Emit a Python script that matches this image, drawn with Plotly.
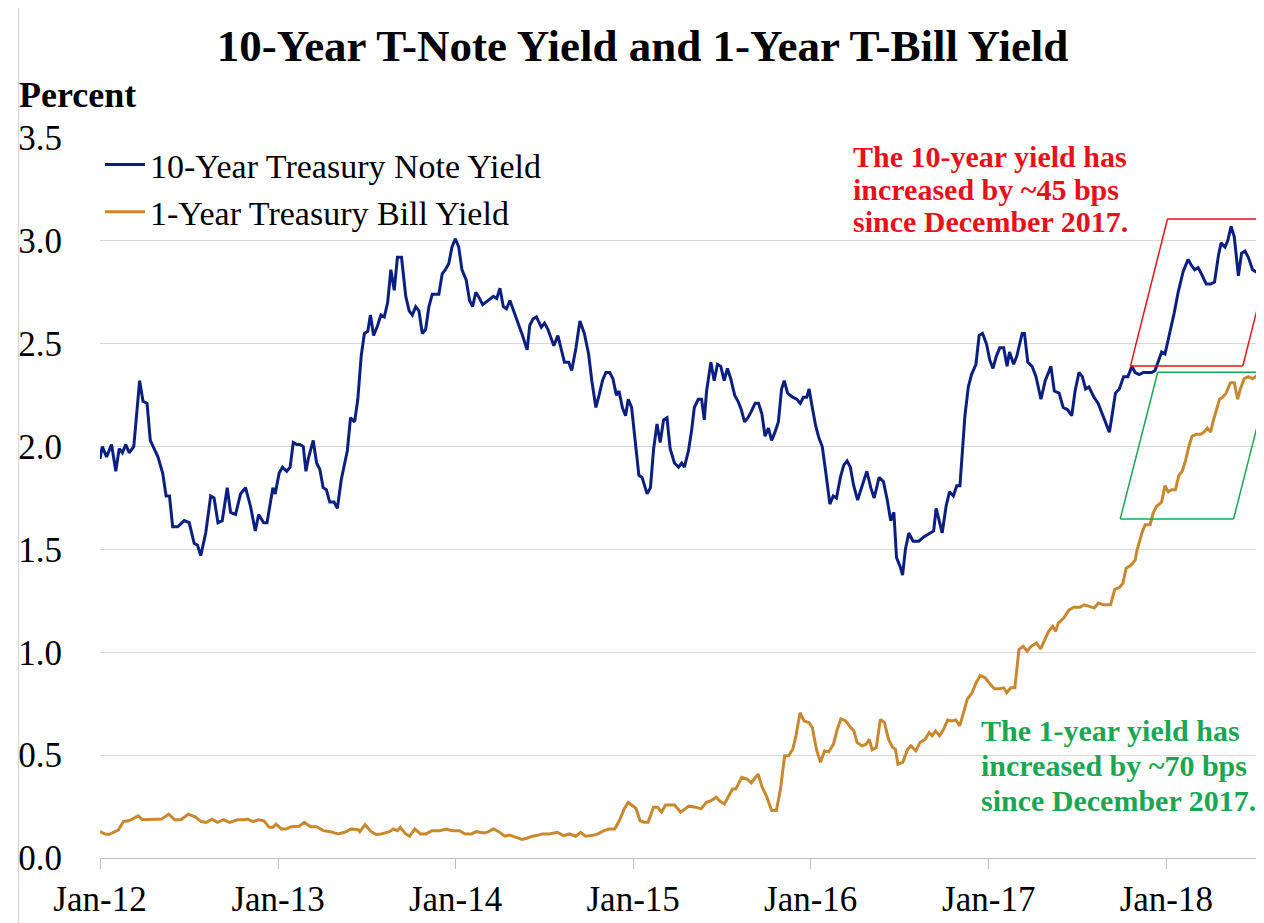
"""10-year T-note vs 1-year T-bill yield, weekly, 2012-2018."""

import pandas as pd
import plotly.graph_objects as go

# positions are years elapsed since 1 Jan 2012
note_t = [0.000, 0.013, 0.037, 0.065, 0.089, 0.108, 0.126, 0.145, 0.164, 0.190, 0.223, 0.242, 0.265, 0.283,
          0.326, 0.353, 0.372, 0.391, 0.409, 0.437, 0.474, 0.502, 0.530, 0.549, 0.567, 0.595, 0.623, 0.642,
          0.664, 0.688, 0.716, 0.735, 0.763, 0.791, 0.819, 0.847, 0.874, 0.893, 0.921, 0.940, 0.973, 0.986,
          1.008, 1.027, 1.051, 1.070, 1.088, 1.107, 1.126, 1.144, 1.159, 1.172, 1.200, 1.219, 1.237, 1.256,
          1.274, 1.293, 1.317, 1.336, 1.358, 1.377, 1.392, 1.410, 1.433, 1.451, 1.470, 1.488, 1.507, 1.522,
          1.540, 1.563, 1.581, 1.600, 1.619, 1.637, 1.656, 1.674, 1.697, 1.721, 1.740, 1.758, 1.777, 1.795,
          1.814, 1.833, 1.851, 1.870, 1.907, 1.926, 1.944, 1.963, 1.981, 2.000,
          2.019, 2.037, 2.061, 2.080, 2.097, 2.115, 2.130, 2.154, 2.186, 2.214, 2.233, 2.251, 2.270, 2.288,
          2.307, 2.329, 2.353, 2.378, 2.404, 2.419, 2.437, 2.456, 2.484, 2.502, 2.521, 2.554, 2.577, 2.595,
          2.614, 2.638, 2.655, 2.679, 2.701, 2.726, 2.750, 2.768, 2.791, 2.809, 2.828, 2.847, 2.869, 2.887,
          2.906, 2.921, 2.940, 2.958, 2.973, 2.992, 3.010, 3.033, 3.051, 3.079, 3.098, 3.116, 3.135, 3.153,
          3.172, 3.191, 3.209, 3.233, 3.256, 3.274, 3.289, 3.312, 3.330, 3.345, 3.367, 3.386, 3.401, 3.414,
          3.438, 3.457, 3.475, 3.494, 3.513, 3.531, 3.550, 3.572, 3.591, 3.609, 3.628, 3.647, 3.665, 3.687,
          3.706, 3.725, 3.743, 3.762, 3.780, 3.799, 3.818, 3.836, 3.851, 3.870, 3.898, 3.922, 3.941, 3.959,
          3.978, 3.991, 4.009, 4.028, 4.047, 4.065, 4.084, 4.108, 4.127, 4.145, 4.167, 4.186, 4.205, 4.223,
          4.242, 4.264, 4.286, 4.316, 4.338, 4.357, 4.385, 4.409, 4.431, 4.450, 4.468, 4.483, 4.502, 4.517,
          4.533, 4.552, 4.576, 4.608, 4.636, 4.673, 4.692, 4.706, 4.725, 4.740, 4.762, 4.781, 4.803, 4.822,
          4.840, 4.855, 4.868, 4.887, 4.905, 4.930, 4.948, 4.967, 4.989, 5.008, 5.026, 5.045, 5.064, 5.086,
          5.105, 5.119, 5.142, 5.160, 5.175, 5.190, 5.203, 5.222, 5.246, 5.268, 5.296, 5.320, 5.352, 5.371,
          5.398, 5.421, 5.445, 5.469, 5.488, 5.510, 5.529, 5.547, 5.566, 5.594, 5.618, 5.640, 5.663, 5.681,
          5.696, 5.715, 5.737, 5.761, 5.785, 5.808, 5.826, 5.849, 5.873, 5.892, 5.919, 5.938, 5.960, 5.975,
          5.994, 6.022, 6.046, 6.068, 6.096, 6.124, 6.143, 6.161, 6.180, 6.199, 6.226, 6.251, 6.273, 6.295,
          6.310, 6.332, 6.347, 6.366, 6.384, 6.407, 6.425, 6.444, 6.463, 6.487, 6.505, 6.524]
note_yield = [1.94, 2.00, 1.95, 2.01, 1.88, 1.99, 1.97, 2.01, 1.97, 2.00, 2.32, 2.22, 2.21, 2.03,
              1.95, 1.87, 1.76, 1.76, 1.61, 1.61, 1.64, 1.63, 1.53, 1.52, 1.47, 1.58, 1.76, 1.75,
              1.63, 1.64, 1.80, 1.68, 1.67, 1.77, 1.80, 1.71, 1.59, 1.67, 1.63, 1.63, 1.80, 1.77,
              1.87, 1.90, 1.88, 1.90, 2.02, 2.01, 2.01, 2.00, 1.88, 1.94, 2.03, 1.92, 1.89, 1.80,
              1.79, 1.73, 1.73, 1.70, 1.84, 1.92, 1.98, 2.14, 2.12, 2.23, 2.44, 2.55, 2.56, 2.64,
              2.54, 2.59, 2.64, 2.63, 2.70, 2.86, 2.76, 2.92, 2.92, 2.73, 2.66, 2.64, 2.68, 2.66,
              2.55, 2.57, 2.68, 2.74, 2.74, 2.84, 2.86, 2.89, 2.97, 3.01,
              2.97, 2.86, 2.81, 2.71, 2.68, 2.75, 2.73, 2.69, 2.71, 2.73, 2.72, 2.77, 2.68, 2.67,
              2.71, 2.66, 2.60, 2.54, 2.47, 2.59, 2.62, 2.63, 2.58, 2.60, 2.57, 2.49, 2.54, 2.47,
              2.41, 2.41, 2.37, 2.48, 2.61, 2.55, 2.45, 2.32, 2.19, 2.25, 2.32, 2.36, 2.36, 2.33,
              2.25, 2.27, 2.19, 2.15, 2.23, 2.19, 2.03, 1.86, 1.85, 1.77, 1.80, 1.99, 2.11, 2.02,
              2.13, 2.14, 1.99, 1.92, 1.90, 1.92, 1.90, 1.98, 2.08, 2.19, 2.23, 2.23, 2.13, 2.27,
              2.41, 2.32, 2.40, 2.39, 2.32, 2.38, 2.33, 2.25, 2.22, 2.18, 2.12, 2.14, 2.17, 2.21,
              2.21, 2.16, 2.05, 2.09, 2.03, 2.07, 2.12, 2.28, 2.32, 2.26, 2.24, 2.23, 2.21, 2.24,
              2.24, 2.28, 2.19, 2.10, 2.04, 2.00, 1.88, 1.72, 1.76, 1.75, 1.85, 1.91, 1.93, 1.90,
              1.81, 1.74, 1.80, 1.88, 1.80, 1.75, 1.85, 1.83, 1.74, 1.64, 1.68, 1.46, 1.42, 1.375,
              1.50, 1.58, 1.54, 1.54, 1.56, 1.58, 1.59, 1.70, 1.63, 1.58, 1.71, 1.78, 1.76, 1.81,
              1.81, 1.98, 2.15, 2.29, 2.35, 2.40, 2.54, 2.55, 2.50, 2.42, 2.38, 2.44, 2.48, 2.48,
              2.39, 2.46, 2.40, 2.44, 2.49, 2.55, 2.55, 2.41, 2.39, 2.34, 2.23, 2.32, 2.39, 2.27,
              2.26, 2.19, 2.18, 2.15, 2.27, 2.36, 2.34, 2.28, 2.29, 2.24, 2.21, 2.16, 2.11, 2.07,
              2.15, 2.26, 2.28, 2.34, 2.34, 2.39, 2.36, 2.35, 2.36, 2.36, 2.36, 2.37, 2.42, 2.46,
              2.45, 2.55, 2.65, 2.75, 2.85, 2.91, 2.88, 2.86, 2.87, 2.84, 2.79, 2.79, 2.80, 2.93,
              2.99, 2.97, 3.00, 3.07, 3.02, 2.83, 2.94, 2.95, 2.92, 2.86, 2.85, 2.86]

bill_t = [0.000, 0.027, 0.050, 0.080, 0.103, 0.132, 0.159, 0.182, 0.216, 0.239, 0.273, 0.308, 0.346, 0.387,
          0.421, 0.456, 0.497, 0.535, 0.569, 0.597, 0.631, 0.661, 0.695, 0.729, 0.774, 0.809, 0.831, 0.861,
          0.893, 0.923, 0.952, 0.974, 0.991, 1.021, 1.048, 1.075, 1.121, 1.150, 1.185, 1.219, 1.257, 1.298,
          1.339, 1.378, 1.412, 1.453, 1.462, 1.492, 1.526, 1.554, 1.583, 1.629, 1.651, 1.674, 1.690, 1.720,
          1.743, 1.772, 1.804, 1.834, 1.868, 1.913, 1.948, 1.982, 2.023, 2.055, 2.091, 2.118, 2.164, 2.187,
          2.214, 2.244, 2.278, 2.305, 2.342, 2.374, 2.403, 2.433, 2.460, 2.488, 2.528, 2.574, 2.608, 2.642,
          2.677, 2.706, 2.733, 2.768, 2.802, 2.836, 2.866, 2.897, 2.927, 2.950, 2.973,
          3.016, 3.039, 3.062, 3.085, 3.115, 3.138, 3.161, 3.183, 3.234, 3.268, 3.314, 3.353, 3.383, 3.413,
          3.440, 3.468, 3.491, 3.514, 3.537, 3.560, 3.578, 3.612, 3.642, 3.665, 3.704, 3.727, 3.750, 3.780,
          3.807, 3.830, 3.853, 3.876, 3.899, 3.917, 3.940, 3.963, 3.991, 4.009, 4.032, 4.055, 4.078, 4.101,
          4.128, 4.147, 4.170, 4.197, 4.225, 4.243, 4.261, 4.289, 4.312, 4.330, 4.346, 4.369, 4.392, 4.415,
          4.438, 4.461, 4.477, 4.491, 4.518, 4.546, 4.564, 4.592, 4.615, 4.644, 4.667, 4.683, 4.702, 4.725,
          4.748, 4.771, 4.794, 4.817, 4.839, 4.858, 4.881, 4.908, 4.931, 4.954, 4.982, 5.011, 5.034, 5.064,
          5.087, 5.103, 5.126, 5.149, 5.172, 5.195, 5.218, 5.241, 5.271, 5.294, 5.317, 5.339, 5.362, 5.378,
          5.394, 5.424, 5.454, 5.482, 5.516, 5.539, 5.569, 5.596, 5.619, 5.647, 5.688, 5.711, 5.739, 5.757,
          5.775, 5.803, 5.826, 5.837, 5.864, 5.882, 5.910, 5.929, 5.947, 5.975, 5.994, 6.012, 6.031, 6.053,
          6.072, 6.091, 6.109, 6.128, 6.146, 6.171, 6.195, 6.213, 6.232, 6.251, 6.264, 6.282, 6.301, 6.319,
          6.338, 6.362, 6.384, 6.403, 6.418, 6.440, 6.463, 6.487, 6.505, 6.524]
bill_yield = [0.128, 0.117, 0.114, 0.128, 0.136, 0.177, 0.181, 0.189, 0.205, 0.186, 0.186, 0.186, 0.189, 0.213,
              0.186, 0.186, 0.213, 0.200, 0.177, 0.173, 0.189, 0.173, 0.186, 0.173, 0.186, 0.186, 0.189, 0.177,
              0.186, 0.181, 0.149, 0.149, 0.165, 0.141, 0.141, 0.152, 0.154, 0.173, 0.152, 0.152, 0.133, 0.128,
              0.117, 0.125, 0.141, 0.138, 0.128, 0.162, 0.128, 0.114, 0.117, 0.128, 0.141, 0.133, 0.149, 0.117,
              0.106, 0.141, 0.117, 0.117, 0.133, 0.133, 0.141, 0.133, 0.133, 0.117, 0.117, 0.128, 0.122, 0.128,
              0.141, 0.128, 0.106, 0.112, 0.101, 0.090, 0.096, 0.106, 0.109, 0.117, 0.117, 0.125, 0.109, 0.117,
              0.106, 0.125, 0.106, 0.109, 0.117, 0.133, 0.141, 0.141, 0.189, 0.238, 0.270,
              0.242, 0.182, 0.174, 0.174, 0.247, 0.247, 0.223, 0.258, 0.258, 0.223, 0.252, 0.247, 0.239, 0.271,
              0.279, 0.295, 0.274, 0.263, 0.303, 0.335, 0.335, 0.392, 0.384, 0.365, 0.408, 0.344, 0.303, 0.231,
              0.231, 0.335, 0.497, 0.497, 0.529, 0.594, 0.706, 0.666, 0.658, 0.634, 0.529, 0.465, 0.521, 0.516,
              0.553, 0.618, 0.677, 0.666, 0.634, 0.618, 0.561, 0.545, 0.553, 0.577, 0.526, 0.537, 0.674, 0.658,
              0.577, 0.537, 0.529, 0.456, 0.465, 0.529, 0.545, 0.521, 0.561, 0.577, 0.610, 0.594, 0.618, 0.594,
              0.626, 0.671, 0.666, 0.671, 0.642, 0.706, 0.771, 0.803, 0.852, 0.887, 0.876, 0.844, 0.823, 0.823,
              0.827, 0.803, 0.827, 0.827, 1.013, 1.029, 1.005, 1.029, 1.045, 1.016, 1.061, 1.102, 1.126, 1.102,
              1.142, 1.166, 1.206, 1.219, 1.219, 1.231, 1.223, 1.215, 1.239, 1.231, 1.231, 1.306, 1.316, 1.335,
              1.408, 1.424, 1.448, 1.497, 1.58, 1.62, 1.62, 1.68, 1.71, 1.73, 1.81, 1.78, 1.79, 1.79,
              1.86, 1.88, 1.93, 2.00, 2.05, 2.06, 2.06, 2.07, 2.09, 2.07, 2.12, 2.18, 2.23, 2.24,
              2.26, 2.31, 2.31, 2.23, 2.28, 2.33, 2.34, 2.33, 2.34, 2.36]

# callout outlines (corner positions in years since 2012 / percent)
red_box_t = [5.800, 6.008, 6.641, 6.432, 5.800]
red_box_v = [2.392, 3.106, 3.106, 2.392, 2.392]
green_box_t = [5.742, 5.953, 6.590, 6.380, 5.742]
green_box_v = [1.648, 2.361, 2.361, 1.648, 1.648]

red_note = ["The 10-year yield has", "increased by ~45 bps", "since December 2017."]
green_note = ["The 1-year yield has", "increased by ~70 bps", "since December 2017."]

NAVY = "#0B1F80"
GOLD = "#C8892E"
RED = "#E8101A"
GREEN = "#1AA653"
SERIF = "Liberation Serif, Times New Roman, serif"

START = pd.Timestamp("2012-01-01")


def as_date(years):
    return [START + pd.Timedelta(days=y * 365.25) for y in years]


fig = go.Figure()
fig.add_trace(go.Scatter(x=as_date(note_t), y=note_yield, mode="lines",
                         name="10-Year Treasury Note Yield", line=dict(color=NAVY, width=3)))
fig.add_trace(go.Scatter(x=as_date(bill_t), y=bill_yield, mode="lines",
                         name="1-Year Treasury Bill Yield", line=dict(color=GOLD, width=3)))

for ts, vs, col in [(red_box_t, red_box_v, RED), (green_box_t, green_box_v, GREEN)]:
    ds = as_date(ts)
    for i in range(4):
        fig.add_shape(type="line", x0=ds[i], y0=vs[i], x1=ds[i + 1], y1=vs[i + 1],
                      line=dict(color=col, width=1.5))

# text blocks, one annotation per line (left aligned)
for i, line in enumerate(red_note):
    fig.add_annotation(x=as_date([4.225])[0], y=3.408 - i * 0.156, text=f"<b>{line}</b>",
                       showarrow=False, xanchor="left", yanchor="middle",
                       font=dict(family=SERIF, size=30, color=RED))
for i, line in enumerate(green_note):
    fig.add_annotation(x=as_date([4.945])[0], y=0.622 - i * 0.172, text=f"<b>{line}</b>",
                       showarrow=False, xanchor="left", yanchor="middle",
                       font=dict(family=SERIF, size=30, color=GREEN))

fig.add_annotation(xref="paper", yref="paper", x=-0.071, y=1.060, text="<b>Percent</b>",
                   showarrow=False, xanchor="left", yanchor="middle",
                   font=dict(family=SERIF, size=36, color="black"))

# thin frame of the original image (left and top edges)
fig.add_shape(type="line", xref="paper", yref="paper", x0=-0.070, y0=-0.12, x1=-0.070, y1=1.182,
              line=dict(color="#d0d0d0", width=1))
fig.add_shape(type="line", xref="paper", yref="paper", x0=-0.070, y0=1.182, x1=1.02, y1=1.182,
              line=dict(color="#d0d0d0", width=1))

# the page puts the figure 8px in from the top-left corner, margins account for that
fig.update_layout(
    width=1264, height=923,
    margin=dict(l=82, r=10, t=130, b=73),
    paper_bgcolor="white", plot_bgcolor="white",
    font=dict(family=SERIF, color="black"),
    title=dict(text="<b>10-Year T-Note Yield and 1-Year T-Bill Yield</b>",
               x=0.502, xref="container", xanchor="center",
               y=1 - 37 / 923, yref="container", yanchor="middle",
               font=dict(family=SERIF, size=45, color="black")),
    legend=dict(x=0.0, y=1.003, xanchor="left", yanchor="top", bgcolor="rgba(0,0,0,0)",
                itemwidth=40, font=dict(family=SERIF, size=34, color="black")),
    showlegend=True,
)
fig.update_xaxes(type="date", range=[START, as_date([6.540])[0]], dtick="M12", tick0="2012-01-01",
                 tickformat="%b-%y", ticks="outside", ticklen=10, tickcolor="#bfbfbf",
                 showline=True, linecolor="#bfbfbf", showgrid=False, zeroline=False,
                 tickfont=dict(family=SERIF, size=35, color="black"))
fig.update_yaxes(range=[0, 3.5], dtick=0.5, tickformat=".1f", showgrid=True, gridcolor="#d9d9d9",
                 zeroline=False, showline=False, ticks="", ticklabelstandoff=37,
                 tickfont=dict(family=SERIF, size=35, color="black"))

fig.write_html("out.html")
